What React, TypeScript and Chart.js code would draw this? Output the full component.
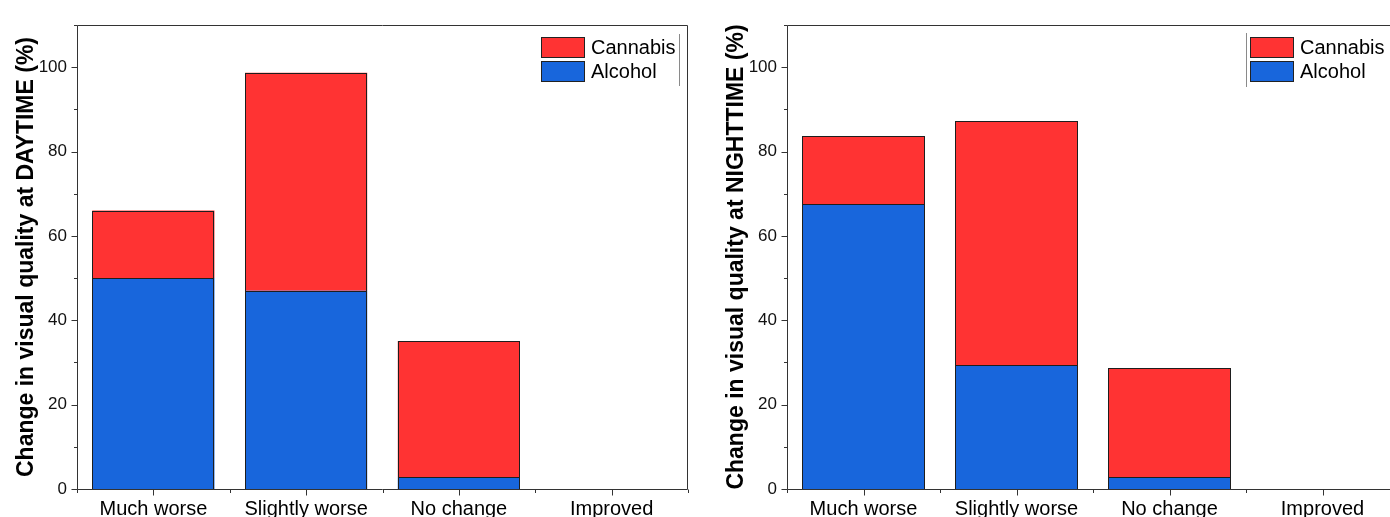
import React, { useEffect, useRef } from "react";
import { Chart, registerables } from "chart.js";

Chart.register(...registerables);

// Response categories along the x axis
const categories = ["Much worse", "Slightly worse", "No change", "Improved"];

// Percent of respondents, daytime
const dayAlcohol = [50, 47, 2.8, 0];
const dayCannabis = [16, 51.7, 32.3, 0];

// Percent of respondents, nighttime
const nightAlcohol = [67.5, 29.3, 2.8, 0];
const nightCannabis = [16.1, 57.9, 25.9, 0];

// Axis range and tick spacing
const yMin = 0;
const yMax = 110;
const yMajorStep = 20;
const yMinorStep = 10;

const seriesNames = ["Alcohol", "Cannabis"];

const RED = "#FF3333";
const BLUE = "#1866DC";
const EDGE = "#1e1e1e";
const FONT = "Arial, 'Liberation Sans', Helvetica, sans-serif";

// Crisp 1px outlines on every stacked bar segment, snapped to the pixel grid
const barOutlines = {
  id: "barOutlines",
  afterDatasetsDraw(chart: any) {
    const { ctx } = chart;
    ctx.save();
    ctx.strokeStyle = EDGE;
    ctx.lineWidth = 1;
    chart.data.datasets.forEach((_d: any, di: number) => {
      const meta = chart.getDatasetMeta(di);
      meta.data.forEach((el: any) => {
        const { x, y, base, width } = el.getProps(["x", "y", "base", "width"], true);
        if (Math.abs(base - y) < 0.5) return;
        const l = Math.round(x - width / 2) + 0.5;
        const r = Math.round(x + width / 2) - 0.5;
        const t = Math.round(Math.min(y, base)) + 0.5;
        const b = Math.round(Math.max(y, base)) + 0.5;
        ctx.strokeRect(l, t, r - l, b - t);
      });
    });
    ctx.restore();
  },
};

// Frame around the plot area plus Origin-style major / minor tick marks
const frameTicks = {
  id: "frameTicks",
  afterDatasetsDraw(chart: any) {
    const { ctx, chartArea: a, scales } = chart;
    const xs = scales.x;
    const ys = scales.y;
    const L = Math.round(a.left) + 0.5;
    const R = Math.round(a.right) - 0.5;
    const T = Math.round(a.top) + 0.5;
    const B = Math.round(a.bottom) + 0.5;
    ctx.save();
    ctx.strokeStyle = "#333";
    ctx.lineWidth = 1;
    ctx.beginPath();
    ctx.moveTo(L, B);
    ctx.lineTo(L, T);
    ctx.lineTo(R, T);
    ctx.lineTo(R, B);
    ctx.lineTo(L, B);
    // y ticks
    for (let v = yMin; v <= yMax; v += yMinorStep) {
      const py = Math.round(ys.getPixelForValue(v)) + 0.5;
      const len = v % yMajorStep === 0 ? 6 : 3.5;
      ctx.moveTo(L - len, py);
      ctx.lineTo(L, py);
    }
    // x ticks: major at category centres, minor at category boundaries
    const n = categories.length;
    for (let i = 0; i < n; i++) {
      const px = Math.round(xs.getPixelForValue(i)) + 0.5;
      ctx.moveTo(px, B);
      ctx.lineTo(px, B + 6);
    }
    for (let i = 0; i <= n; i++) {
      const px = Math.round(xs.getPixelForValue(i - 0.5)) + 0.5;
      ctx.moveTo(px, B);
      ctx.lineTo(px, B + 3.5);
    }
    ctx.stroke();
    ctx.restore();
  },
};

// Boxed legend placed inside the top-right corner of the plot area
const cornerLegend = {
  id: "cornerLegend",
  afterDraw(chart: any, _args: any, opts: any) {
    const { ctx, chartArea: a } = chart;
    const boxL = Math.round(a.right - opts.fromRight);
    const top = Math.round(a.top + 12);
    const items = [
      { label: seriesNames[1], color: RED },
      { label: seriesNames[0], color: BLUE },
    ];
    ctx.save();
    ctx.font = `20px ${FONT}`;
    ctx.textBaseline = "middle";
    ctx.textAlign = "left";
    items.forEach((it, k) => {
      const y = top + k * 24;
      ctx.fillStyle = it.color;
      ctx.fillRect(boxL, y, 44, 21);
      ctx.strokeStyle = "#222";
      ctx.lineWidth = 1;
      ctx.strokeRect(boxL + 0.5, y + 0.5, 43, 20);
      ctx.fillStyle = "#000";
      ctx.fillText(it.label, boxL + 50, y + 11);
    });
    ctx.strokeStyle = "#8a8a8a";
    ctx.lineWidth = 1;
    ctx.beginPath();
    if (opts.leftLine) {
      const lx = boxL - 3.5;
      ctx.moveTo(lx, top - 4);
      ctx.lineTo(lx, top + 50);
    }
    const rx = Math.round(a.right - 9) + 0.5;
    ctx.moveTo(rx, top - 3);
    ctx.lineTo(rx, top + 49);
    ctx.stroke();
    ctx.restore();
  },
};

type PanelProps = {
  alcohol: number[];
  cannabis: number[];
  title: string;
  titlePad: number;
  width: number;
  axisWidth: number;
  padRight: number;
  legendFromRight: number;
  legendLeftLine: boolean;
};

function Panel(p: PanelProps) {
  const ref = useRef<HTMLCanvasElement>(null);
  useEffect(() => {
    if (!ref.current) return;
    const chart = new Chart(ref.current, {
      type: "bar",
      data: {
        labels: categories,
        datasets: [
          {
            label: seriesNames[0],
            data: p.alcohol,
            backgroundColor: BLUE,
            borderWidth: 0,
          },
          {
            label: seriesNames[1],
            data: p.cannabis,
            backgroundColor: RED,
            borderWidth: 0,
          },
        ],
      },
      options: {
        responsive: false,
        animation: false,
        devicePixelRatio: 1,
        layout: { padding: { left: 0, top: 25, right: p.padRight, bottom: 0 } },
        datasets: { bar: { barPercentage: 0.8, categoryPercentage: 1 } },
        plugins: {
          legend: { display: false },
          tooltip: { enabled: false },
          cornerLegend: { fromRight: p.legendFromRight, leftLine: p.legendLeftLine },
        } as any,
        scales: {
          x: {
            stacked: true,
            offset: true,
            grid: { display: false, drawTicks: false },
            border: { display: false },
            ticks: {
              color: "#000",
              padding: 8,
              font: { family: FONT, size: 20 },
              maxRotation: 0,
              autoSkip: false,
            },
            afterFit: (s: any) => {
              s.height = 28;
            },
          },
          y: {
            stacked: true,
            min: yMin,
            max: yMax,
            grid: { display: false, drawTicks: false },
            border: { display: false },
            ticks: {
              stepSize: yMinorStep,
              autoSkip: false,
              padding: 10,
              color: "#111",
              font: { family: FONT, size: 17 },
              callback: (v: any) => (Number(v) % yMajorStep === 0 ? String(v) : ""),
            },
            title: {
              display: true,
              text: p.title,
              color: "#000",
              font: { family: FONT, size: 23, weight: "bold" },
              padding: { top: p.titlePad, bottom: 0 },
            },
            afterFit: (s: any) => {
              s.width = p.axisWidth;
            },
          },
        },
      },
      plugins: [barOutlines, frameTicks, cornerLegend],
    });
    return () => chart.destroy();
  }, []);
  return <canvas ref={ref} width={p.width} height={517} style={{ display: "block" }} />;
}

export default function App() {
  return (
    <div
      style={{
        position: "fixed",
        left: 0,
        top: 0,
        width: 1390,
        height: 517,
        overflow: "hidden",
        background: "#fff",
      }}
    >
      <div style={{ position: "absolute", left: 0, top: 0 }}>
        <Panel
          alcohol={dayAlcohol}
          cannabis={dayCannabis}
          title="Change in visual quality at DAYTIME (%)"
          titlePad={13}
          width={700}
          axisWidth={77}
          padRight={12}
          legendFromRight={147}
          legendLeftLine={false}
        />
      </div>
      <div style={{ position: "absolute", left: 700, top: 0 }}>
        <Panel
          alcohol={nightAlcohol}
          cannabis={nightCannabis}
          title="Change in visual quality at NIGHTTIME (%)"
          titlePad={23}
          width={712}
          axisWidth={87}
          padRight={13}
          legendFromRight={149}
          legendLeftLine={true}
        />
      </div>
    </div>
  );
}
